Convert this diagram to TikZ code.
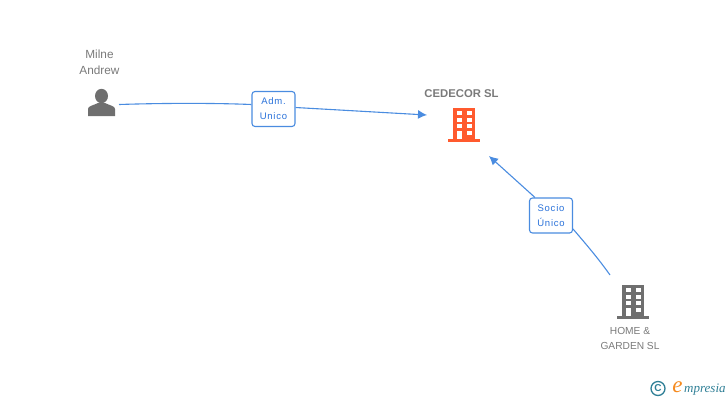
\documentclass[tikz,border=0pt]{standalone}
\usepackage{fontspec}
\setmainfont{Liberation Sans}
\newfontfamily\logofont{Liberation Serif}
\usetikzlibrary{arrows.meta}
\definecolor{lnblue}{HTML}{4A8CE0}
\definecolor{txblue}{HTML}{2A72DA}
\definecolor{grayic}{HTML}{6F6F6F}
\definecolor{graytx}{HTML}{7A7A7A}
\definecolor{orangeic}{HTML}{FF5A2E}
\definecolor{teallogo}{HTML}{2F7F96}
\definecolor{orangelogo}{HTML}{F58A1F}
\tikzset{
  edgeline/.style={draw=lnblue,line width=1.1pt},
  arrowline/.style={edgeline,-{Latex[length=9pt,width=9pt]}},
  rolebox/.style={draw=lnblue,line width=1.1pt,fill=white,rounded corners=3pt,minimum width=43pt,minimum height=35pt,inner sep=0pt,align=center,text=txblue,font=\fontsize{9.5}{15}\selectfont\addfontfeatures{LetterSpace=8}},
  nametext/.style={text=graytx,align=center,inner sep=0pt,font=\fontsize{11.8}{15.5}\selectfont},
  building/.pic={
    \fill[pic actions] (-11,-17) rectangle (11,14);
    \fill[pic actions] (-16,14) rectangle (16,17);
    \fill[white] (-7,-14) rectangle (-2,-10);
    \fill[white] (3,-14) rectangle (8,-10);
    \fill[white] (-7,-7) rectangle (-2,-3);
    \fill[white] (3,-7) rectangle (8,-3);
    \fill[white] (-7,-1) rectangle (-2,3);
    \fill[white] (3,-1) rectangle (8,3);
    \fill[white] (-7,6) rectangle (-2,14);
    \fill[white] (3,6) rectangle (8,10);
  }
}
\begin{document}
\begin{tikzpicture}[x=1pt,y=-1pt]
\useasboundingbox (0,0) rectangle (728,400);
% person
\fill[grayic] (101.5,96) ellipse (6.5pt and 7.2pt);
\fill[grayic] (88,116) -- (88,109) .. controls (88,106) and (93,105.5) .. (98,103) -- (105,103) .. controls (110,105.5) and (115,106) .. (115,109) -- (115,116) -- cycle;
\node[nametext] (milne) at (99.5,62.5) {Milne\\Andrew};
% buildings
\pic[fill=orangeic] at (464,125) {building};
\pic[fill=grayic] at (632.5,302) {building};
\node[font=\bfseries\fontsize{11.3}{12}\selectfont,text=graytx,inner sep=0pt] (cedecor) at (461.5,93.5) {CEDECOR SL};
\node[nametext,font=\fontsize{10.2}{14.5}\selectfont] (home) at (630,338.5) {HOME \&\\GARDEN SL};
% anchors
\coordinate (pers) at (119,104.5);
\coordinate (cedW) at (427,115);
\coordinate (cedS) at (489,156);
\coordinate (homeN) at (610,275);
% role labels
\node[rolebox] (adm) at (273.5,109) {Adm.\\Unico};
\node[rolebox] (socio) at (551,215.5) {Socio\\Único};
% connectors
\draw[edgeline] (pers) .. controls (165,103) and (215,103) .. ([yshift=4.5pt]adm.west);
\draw[arrowline] ([yshift=1.5pt]adm.east) -- (cedW);
\draw[edgeline] (homeN) .. controls (598,258) and (585,243) .. ([yshift=-13.5pt]socio.east);
\draw[arrowline] ([xshift=6pt]socio.north west) -- (cedS);
% logo
\node[draw=teallogo,line width=1.3pt,circle,minimum size=14pt,inner sep=0pt,text=teallogo,font=\bfseries\fontsize{10}{10}\selectfont] (copy) at (658,388.5) {C};
\node[text=orangelogo,inner sep=0pt,font=\logofont\itshape\fontsize{23}{23}\selectfont] (elogo) at (677.5,387.5) {e};
\node[text=teallogo,inner sep=0pt,anchor=west,font=\logofont\itshape\fontsize{13}{13}\selectfont] (mpresia) at (684,389.5) {mpresia};
\end{tikzpicture}
\end{document}
